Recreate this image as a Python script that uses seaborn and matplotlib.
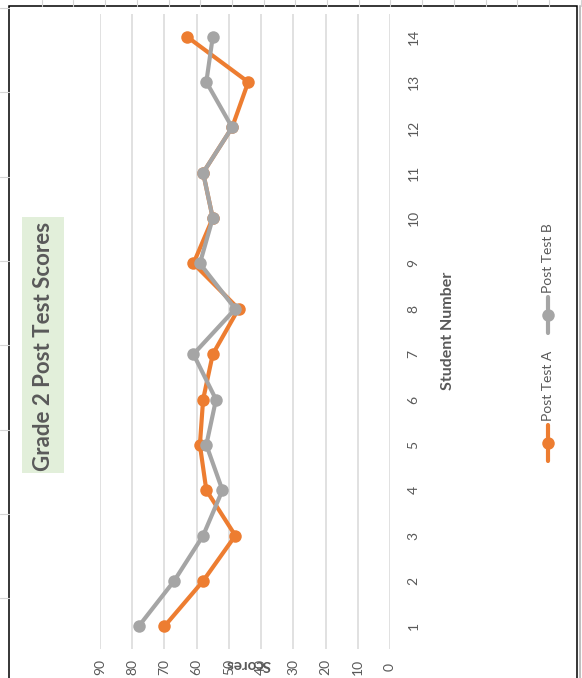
import numpy as np
import pandas as pd
import matplotlib.pyplot as plt
from matplotlib.lines import Line2D
from matplotlib.patches import Rectangle
import seaborn as sns

students = list(range(1, 15))
post_test_a = [70, 58, 48, 57, 59, 58, 55, 47, 61, 55, 58, 49, 44, 63]
post_test_b = [78, 67, 58, 52, 57, 54, 61, 48, 59, 55, 58, 49, 57, 55]
series_names = ["Post Test A", "Post Test B"]
score_ticks = list(range(0, 100, 10))

ORANGE = "#ED7D31"
GRAY = "#A5A5A5"
TEXT = "#595959"
GRID = "#D9D9D9"

df = pd.DataFrame({
    "Student": students * 2,
    "Score": post_test_a + post_test_b,
    "Test": [series_names[0]] * len(students) + [series_names[1]] * len(students),
})

sns.set_theme(style="white")
plt.rcParams["font.family"] = ["Lato", "DejaVu Sans"]

W, H = 582, 678
fig = plt.figure(figsize=(W / 100, H / 100), dpi=100)
fig.patch.set_facecolor("white")


def px(x, y):
    return x / W, 1 - y / H


# Spreadsheet cell lines around the chart object
for k in range(1, 19):
    x = 10 + 31.7 * k
    fig.add_artist(Line2D([x / W] * 2, [1, 1 - 6 / H], color="#D4D4D4", lw=0.8))
for k in range(8):
    y = 8 + 84.3 * k
    fig.add_artist(Line2D([0, 9 / W], [1 - y / H] * 2, color="#D4D4D4", lw=0.8))

# Chart frame
fig.add_artist(Rectangle(px(9, 700), (577 - 9) / W, (700 - 6) / H, fill=False,
                         edgecolor="black", lw=1.1))
fig.add_artist(Line2D([579.5 / W] * 2, [0, 1 - 6 / H], color="#BFBFBF", lw=1.5))

# Plot area (rotated: scores run right->left, students bottom->top)
left, right, top, bottom = 100, 390, 14, 649
ax = fig.add_axes([left / W, 1 - bottom / H, (right - left) / W, (bottom - top) / H])
ax.set_facecolor("none")

sns.lineplot(data=df, x="Score", y="Student", hue="Test", hue_order=series_names,
             palette=[ORANGE, GRAY], orient="y", sort=True, marker="o",
             linewidth=3, markersize=9, markeredgewidth=0, legend=False, ax=ax)

ax.set_xlim(90, 0)
ax.set_ylim(0.5, 14.5)
ax.set_xticks(score_ticks)
ax.set_xticklabels([str(v) for v in score_ticks])
ax.set_yticks(students)
ax.set_yticklabels([str(s) for s in students])
ax.yaxis.tick_right()
ax.grid(axis="x", color=GRID, lw=1.1)
ax.grid(axis="y", visible=False)
for s in ax.spines.values():
    s.set_visible(False)
ax.tick_params(axis="x", length=0, pad=13, labelrotation=90, labelsize=10, colors=TEXT)
ax.tick_params(axis="y", length=0, pad=17, labelrotation=90, labelsize=10, colors=TEXT)
for lab in ax.get_yticklabels():
    lab.set_va("center")
    lab.set_ha("center")
for lab in ax.get_xticklabels():
    lab.set_va("center")
    lab.set_ha("center")
ax.set_xlabel("")
ax.set_ylabel("")

# Axis titles
fig.text(*px(448, 331), "Student Number", rotation=90, ha="center", va="center",
         fontsize=11.5, fontweight="bold", color=TEXT)
fig.text(*px(248, 664), "Scores", rotation=180, ha="center", va="center",
         fontsize=11, fontweight="bold", color=TEXT)

# Title box
fig.add_artist(Rectangle(px(22, 473), (64 - 22) / W, (473 - 217) / H,
                         facecolor="#E2EFDA", edgecolor="none"))
fig.text(*px(44, 346), "Grade 2 Post Test Scores", rotation=90, ha="center", va="center",
         fontsize=16, fontweight="bold", color=TEXT)

# Legend (rotated)
for name, color, yc in [(series_names[0], ORANGE, 443), (series_names[1], GRAY, 315)]:
    fig.add_artist(Line2D([548 / W] * 2, [1 - (yc + 18) / H, 1 - (yc - 18) / H],
                          color=color, lw=3))
    fig.add_artist(Line2D([548 / W], [1 - yc / H], color=color, marker="o",
                          markersize=9, markeredgewidth=0))
    fig.text(*px(548, yc - 22), name, rotation=90, ha="center", va="bottom",
             fontsize=10, color=TEXT)

fig.savefig("out.png", dpi=100)
